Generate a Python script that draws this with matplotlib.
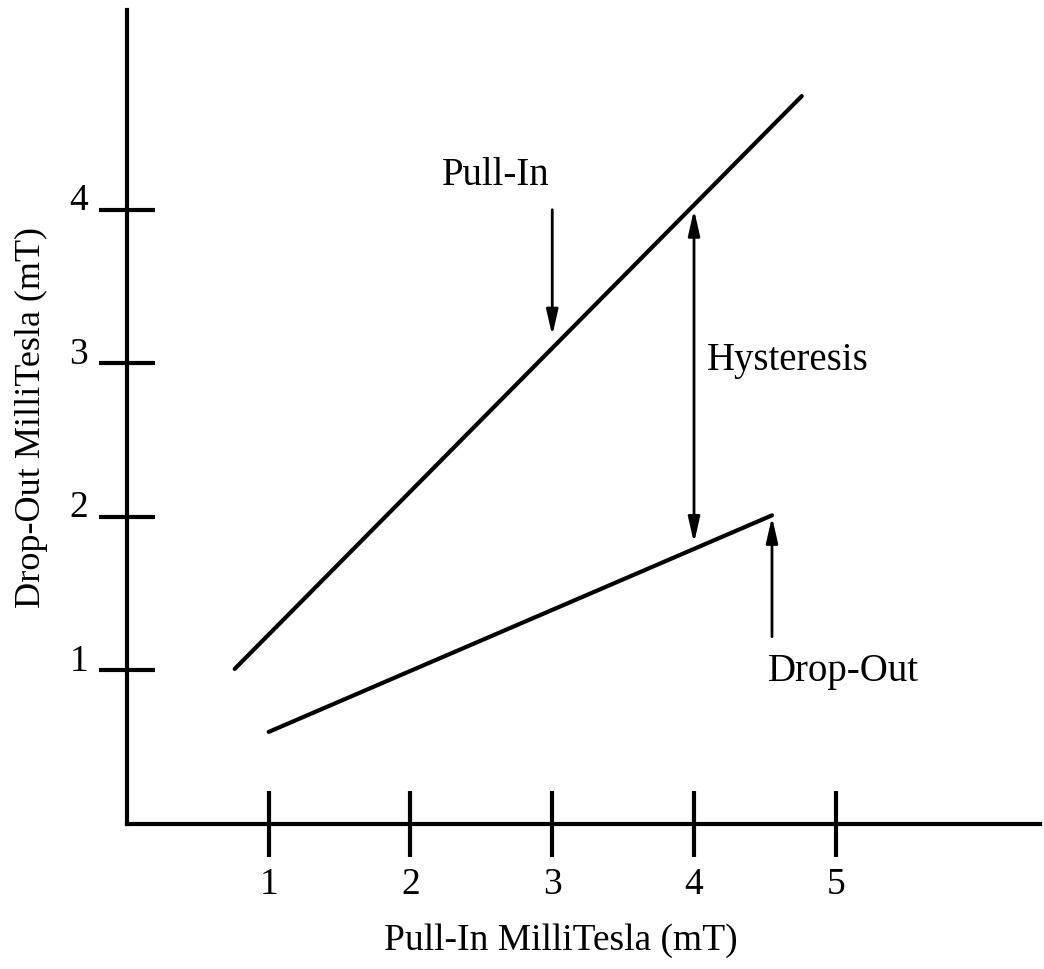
import matplotlib.pyplot as plt
import matplotlib.transforms as mtransforms

plt.rcParams['font.family'] = ['Liberation Serif', 'DejaVu Serif']

# line end points (mT)
pull_in_x = [0.76, 4.76]
pull_in_y = [1.01, 4.74]
drop_out_x = [1.0, 4.55]
drop_out_y = [0.60, 2.01]

x_ticks = [1, 2, 3, 4, 5]
y_ticks = [1, 2, 3, 4]

fig = plt.figure(figsize=(10.44, 9.69), dpi=100)
ax = fig.add_axes([0.1216, 0.1496, 0.8745, 0.840])

ax.plot(pull_in_x, pull_in_y, color='black', lw=3, solid_capstyle='round')
ax.plot(drop_out_x, drop_out_y, color='black', lw=3, solid_capstyle='round')

head = dict(color='black', lw=2, shrinkA=0, shrinkB=0, mutation_scale=22)
one = '-|>,head_length=0.7,head_width=0.16'
two = '<|-|>,head_length=0.7,head_width=0.16'

# Pull-In pointer
ax.annotate('', xy=(3.0, 3.18), xytext=(3.0, 4.0), arrowprops=dict(arrowstyle=one, **head))
# Hysteresis double arrow
ax.annotate('', xy=(4.0, 1.83), xytext=(4.0, 4.0), arrowprops=dict(arrowstyle=two, **head))
# Drop-Out pointer
ax.annotate('', xy=(4.55, 2.0), xytext=(4.55, 1.22), arrowprops=dict(arrowstyle=one, **head))

ax.text(2.60, 4.22, 'Pull-In', fontsize=28, ha='center', va='center')
ax.text(4.09, 3.02, 'Hysteresis', fontsize=28, ha='left', va='center')
ax.text(4.52, 0.99, 'Drop-Out', fontsize=28, ha='left', va='center')

ax.set_xlim(0, 6.44)
ax.set_ylim(0, 5.30)
ax.spines['top'].set_visible(False)
ax.spines['right'].set_visible(False)
ax.spines['left'].set_linewidth(3)
ax.spines['bottom'].set_linewidth(3)

ax.set_xticks(x_ticks)
ax.set_yticks(y_ticks)
ax.tick_params(axis='x', direction='inout', length=48, width=3, labelsize=27, pad=7)
ax.tick_params(axis='y', direction='inout', length=40, width=3, labelsize=27, pad=8)

# y tick labels sit just above their ticks
shift = mtransforms.ScaledTranslation(0, 13 / 100, fig.dpi_scale_trans)
for lab in ax.get_yticklabels():
    lab.set_transform(lab.get_transform() + shift)

ax.set_xlabel('Pull-In MilliTesla (mT)', fontsize=27)
ax.xaxis.set_label_coords(0.475, -0.122)
ax.set_ylabel('Drop-Out MilliTesla (mT)', fontsize=26)
ax.yaxis.set_label_coords(-0.086, 0.5)

fig.savefig('out.png', dpi=100)
